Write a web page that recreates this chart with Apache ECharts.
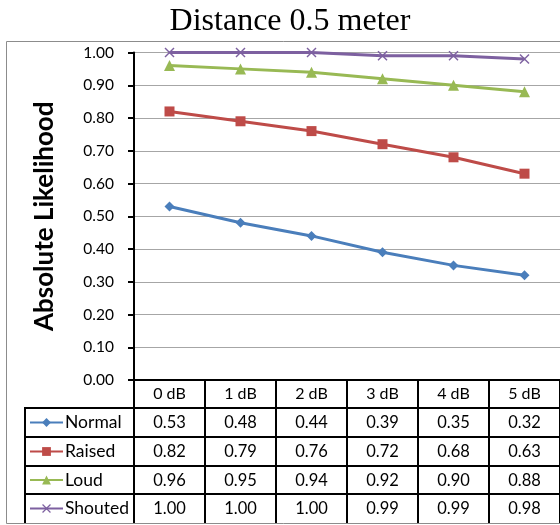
<!DOCTYPE html>
<html>
<head>
<meta charset="utf-8">
<script src="https://cdn.jsdelivr.net/npm/echarts@6/dist/echarts.min.js"></script>
<style>
  html, body { margin: 0; padding: 0; background: #fff; }
  #chart { width: 560px; height: 525px; }
</style>
</head>
<body>
<div id="chart"></div>
<script>
var levels = ['0 dB', '1 dB', '2 dB', '3 dB', '4 dB', '5 dB']
var normal = [0.53, 0.48, 0.44, 0.39, 0.35, 0.32]
var raised = [0.82, 0.79, 0.76, 0.72, 0.68, 0.63]
var loud = [0.96, 0.95, 0.94, 0.92, 0.90, 0.88]
var shouted = [1.00, 1.00, 1.00, 0.99, 0.99, 0.98]
var seriesNames = ['Normal', 'Raised', 'Loud', 'Shouted']
var seriesData = [normal, raised, loud, shouted]

var colors = ['#4a7ebb', '#be4b48', '#98b954', '#7d60a0']
var symbols = [
  'diamond',
  'rect',
  'triangle',
  'path://M0,1L1,0L5,4L9,0L10,1L6,5L10,9L9,10L5,6L1,10L0,9L4,5Z'
]
var symbolSizes = [10, 10, 11, 10]
var font = 'Lato, "Open Sans", sans-serif'

// table geometry (px)
var plotLeft = 134
var axisY = 380
var rowLines = [408, 437, 466, 494]
var tableBottom = 523

var chart = echarts.init(document.getElementById('chart'))

var xAxes = [{
  type: 'category',
  data: levels,
  gridIndex: 0,
  position: 'bottom',
  axisLine: { show: true, lineStyle: { color: '#000', width: 2 } },
  axisTick: { show: true, length: tableBottom - axisY, lineStyle: { color: '#000', width: 2 } },
  axisLabel: { interval: 0, margin: 6, color: '#000', fontFamily: font, fontSize: 16 },
  splitLine: { show: false }
}]
seriesData.forEach(function (vals, k) {
  xAxes.push({
    type: 'category',
    data: levels,
    gridIndex: 0,
    position: 'bottom',
    offset: rowLines[k] - axisY,
    axisLine: { show: false },
    axisTick: { show: false },
    axisLabel: {
      interval: 0,
      margin: 6,
      color: '#000',
      fontFamily: font,
      fontSize: 16.5,
      formatter: function (v, i) { return vals[i].toFixed(2) }
    },
    splitLine: { show: false }
  })
})

var legends = seriesNames.map(function (name, k) {
  var bottom = k < 3 ? rowLines[k + 1] : tableBottom
  var mid = (rowLines[k] + bottom) / 2
  return {
    data: [name],
    left: 29,
    top: mid - 9,
    padding: 0,
    itemWidth: 33,
    itemHeight: 11,
    itemGap: 0,
    selectedMode: false,
    textStyle: { color: '#000', fontFamily: font, fontSize: 17.5, lineHeight: 18, padding: [0, 0, 0, -3] }
  }
})

var option = {
  animation: false,
  title: {
    text: 'Distance 0.5 meter',
    left: 285,
    textAlign: 'center',
    top: 1,
    textStyle: { fontFamily: '"Liberation Serif", serif', fontWeight: 'normal', fontSize: 32, color: '#000' }
  },
  legend: legends,
  grid: { left: plotLeft, right: -3, top: 52.5, bottom: 525 - axisY },
  xAxis: xAxes,
  yAxis: {
    type: 'value',
    min: 0,
    max: 1,
    interval: 0.1,
    name: 'Absolute Likelihood',
    nameLocation: 'middle',
    nameGap: 76,
    nameTextStyle: { fontFamily: font, fontWeight: 'bold', fontSize: 26, color: '#000' },
    axisLine: { show: true, lineStyle: { color: '#000', width: 2 } },
    axisTick: { show: true, length: 6, lineStyle: { color: '#000', width: 2 } },
    axisLabel: {
      margin: 20,
      color: '#000',
      fontFamily: font,
      fontSize: 15.5,
      formatter: function (v) { return v.toFixed(2) }
    },
    splitLine: { show: true, lineStyle: { color: '#a6a6a6', width: 1 } }
  },
  series: seriesNames.map(function (name, k) {
    return {
      name: name,
      type: 'line',
      data: seriesData[k],
      symbol: symbols[k],
      symbolSize: symbolSizes[k],
      showAllSymbol: true,
      lineStyle: { color: colors[k], width: 3 },
      itemStyle: { color: colors[k] },
      z: 3 + k
    }
  }),
  graphic: [
    {
      type: 'rect',
      shape: { x: 6.5, y: 41.5, width: 600, height: tableBottom - 41 },
      style: { fill: null, stroke: '#8c8c8c', lineWidth: 1 },
      z: 0
    },
    {
      type: 'line',
      shape: { x1: 25, y1: rowLines[0], x2: 25, y2: tableBottom },
      style: { stroke: '#000', lineWidth: 2 },
      z: 10
    }
  ].concat(rowLines.map(function (y) {
    return {
      type: 'line',
      shape: { x1: 24, y1: y, x2: 600, y2: y },
      style: { stroke: '#000', lineWidth: 2 },
      z: 10
    }
  }))
}

chart.setOption(option)
</script>
</body>
</html>
